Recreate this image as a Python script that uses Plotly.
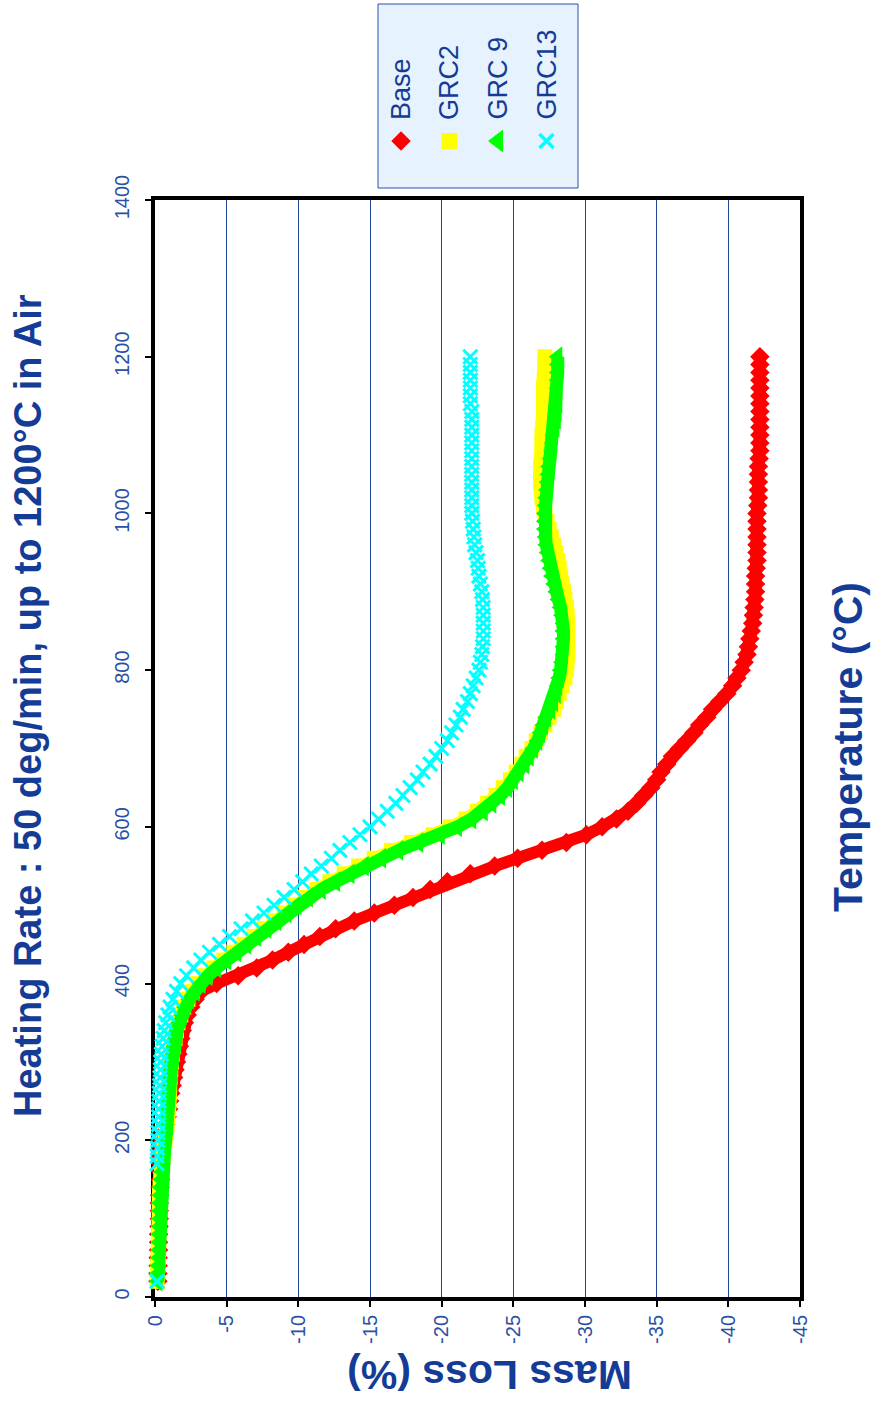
import plotly.graph_objects as go

# ---- data: temperature (°C) vs mass loss (%) ----
temps = [20, 30, 40, 50, 60, 70, 80, 90, 100, 110, 120, 130, 140, 150, 160, 170, 180, 190,
         200, 210, 220, 230, 240, 250, 260, 270, 280, 290, 300, 310, 320, 330, 340,
         350, 360, 370, 380, 390, 400, 410, 420, 430, 440, 450, 460, 470, 480, 490, 500,
         510, 520, 530, 540, 550, 560, 570, 580, 590, 600, 610, 620, 630, 640, 650, 660,
         670, 680, 690, 700, 710, 720, 730, 740, 750, 760, 770, 780, 790, 800,
         810, 820, 830, 840, 850, 860, 870, 880, 890, 900, 910, 920, 930, 940, 950, 960,
         970, 980, 990, 1000, 1010, 1020, 1030, 1040, 1050, 1060, 1070, 1080, 1090, 1100,
         1110, 1120, 1130, 1140, 1150, 1160, 1170, 1180, 1190, 1200]

temps_grc13 = [20, 170, 180, 190,
               200, 210, 220, 230, 240, 250, 260, 270, 280, 290, 300, 310, 320, 330, 340,
               350, 360, 370, 380, 390, 400, 410, 420, 430, 440, 450, 460, 470, 480, 490, 500,
               510, 520, 530, 540, 550, 560, 570, 580, 590, 600, 610, 620, 630, 640, 650, 660,
               670, 680, 690, 700, 710, 720, 730, 740, 750, 760, 770, 780, 790, 800,
               810, 820, 830, 840, 850, 860, 870, 880, 890, 900, 910, 920, 930, 940, 950, 960,
               970, 980, 990, 1000, 1010, 1020, 1030, 1040, 1050, 1060, 1070, 1080, 1090, 1100,
               1110, 1120, 1130, 1140, 1150, 1160, 1170, 1180, 1190, 1200]

base = [-0.2, -0.2, -0.22, -0.22, -0.25, -0.25, -0.25, -0.28, -0.3, -0.3, -0.3, -0.32, -0.35,
        -0.38, -0.4, -0.42, -0.45, -0.5, -0.55, -0.65, -0.75, -0.85, -0.95, -1.02, -1.1,
        -1.2, -1.3, -1.4, -1.5, -1.6, -1.7, -1.8, -1.9,
        -2.05, -2.25, -2.5, -2.8, -3.2, -4.3, -5.8, -7.1, -8.2, -9.3, -10.4, -11.5, -12.6,
        -13.9, -15.3, -16.7, -18.0, -19.2, -20.4, -22.0, -23.7, -25.3, -27.0, -28.7, -30.1,
        -31.2, -32.2, -33.0, -33.6, -34.1, -34.6, -35.0, -35.3, -35.7, -36.1, -36.6, -37.1,
        -37.6, -38.0, -38.5, -38.9, -39.4, -39.9, -40.3, -40.6, -40.9,
        -41.1, -41.3, -41.4, -41.5, -41.6, -41.7, -41.75, -41.8, -41.85, -41.9,
        -41.9, -41.9, -41.95, -42.0, -42.0, -42.0, -42.0, -42.0, -42.0, -42.0,
        -42.05, -42.1, -42.1, -42.1, -42.1, -42.1, -42.15, -42.2, -42.2, -42.2,
        -42.2, -42.2, -42.2, -42.2, -42.2, -42.2, -42.2, -42.2, -42.2, -42.2]

grc2 = [-0.15, -0.18, -0.2, -0.22, -0.25, -0.25, -0.25, -0.28, -0.3, -0.3, -0.3, -0.32, -0.35,
        -0.4, -0.45, -0.5, -0.55, -0.62, -0.7, -0.78, -0.85, -0.9, -0.95, -0.98, -1.0,
        -1.02, -1.05, -1.1, -1.15, -1.22, -1.3, -1.4, -1.5,
        -1.6, -1.8, -2.0, -2.3, -2.6, -3.0, -3.5, -4.1, -4.8, -5.5, -6.2, -6.9, -7.6, -8.3,
        -9.0, -9.7, -10.5, -11.3, -12.2, -13.2, -14.2, -15.3, -16.5, -17.9, -19.4, -20.6,
        -21.7, -22.5, -23.2, -23.8, -24.3, -24.8, -25.2, -25.6, -25.9, -26.3, -26.6, -26.9,
        -27.2, -27.5, -27.8, -28.0, -28.2, -28.4, -28.6, -28.7,
        -28.75, -28.8, -28.8, -28.8, -28.8, -28.8, -28.75, -28.7, -28.6, -28.5,
        -28.4, -28.3, -28.2, -28.1, -27.95, -27.8, -27.65, -27.5, -27.35, -27.2,
        -27.1, -27.0, -26.95, -26.9, -26.9, -26.9, -26.95, -27.0, -27.0, -27.0,
        -27.05, -27.1, -27.1, -27.1, -27.1, -27.1, -27.15, -27.2, -27.2, -27.2]

grc9 = [-0.2, -0.22, -0.25, -0.28, -0.3, -0.3, -0.3, -0.32, -0.35, -0.35, -0.35, -0.38, -0.4,
        -0.45, -0.5, -0.55, -0.6, -0.68, -0.75, -0.82, -0.9, -0.95, -1.0, -1.02, -1.05,
        -1.08, -1.1, -1.15, -1.2, -1.28, -1.35, -1.45, -1.55,
        -1.7, -1.9, -2.1, -2.4, -2.8, -3.2, -3.7, -4.3, -5.0, -5.7, -6.4, -7.1, -7.8, -8.5,
        -9.2, -9.9, -10.7, -11.6, -12.6, -13.6, -14.6, -15.8, -17.0, -18.4, -19.9, -21.1,
        -22.1, -22.9, -23.5, -24.1, -24.6, -25.0, -25.4, -25.8, -26.1, -26.4, -26.7, -26.9,
        -27.1, -27.3, -27.6, -27.8, -28.0, -28.1, -28.2, -28.3,
        -28.4, -28.5, -28.5, -28.5, -28.5, -28.5, -28.4, -28.3, -28.15, -28.0,
        -27.85, -27.7, -27.6, -27.5, -27.4, -27.3, -27.25, -27.2, -27.2, -27.2,
        -27.25, -27.3, -27.35, -27.4, -27.45, -27.5, -27.6, -27.7, -27.75, -27.8,
        -27.9, -28.0, -28.05, -28.1, -28.1, -28.1, -28.1, -28.1, -28.1, -28.1]

grc13 = [-0.15, -0.15, -0.15, -0.18,
         -0.2, -0.22, -0.25, -0.25, -0.25, -0.28, -0.3, -0.32, -0.35, -0.38, -0.4, -0.45,
         -0.5, -0.57, -0.65,
         -0.75, -0.9, -1.05, -1.25, -1.5, -1.8, -2.2, -2.7, -3.2, -3.8, -4.5, -5.2, -6.0,
         -6.8, -7.6, -8.3, -9.0, -9.7, -10.3, -10.9, -11.6, -12.3, -12.9, -13.6, -14.3,
         -15.0, -15.6, -16.2, -16.8, -17.3, -17.8, -18.3, -18.7, -19.2, -19.6, -20.0, -20.4,
         -20.7, -21.0, -21.3, -21.5, -21.8, -22.0, -22.2, -22.4, -22.6,
         -22.7, -22.8, -22.85, -22.9, -22.9, -22.9, -22.9, -22.9, -22.85, -22.8,
         -22.7, -22.6, -22.55, -22.5, -22.4, -22.3, -22.25, -22.2, -22.15, -22.1,
         -22.1, -22.1, -22.1, -22.1, -22.1, -22.1, -22.1, -22.1, -22.1, -22.1,
         -22.1, -22.1, -22.1, -22.0, -22.0, -22.0, -22.0, -22.0, -22.0, -22.0]

series_names = ["Base", "GRC2", "GRC 9", "GRC13"]
series_temps = [temps, temps, temps, temps_grc13]
series_values = [base, grc2, grc9, grc13]

mass_ticks = [0, -5, -10, -15, -20, -25, -30, -35, -40, -45]
temp_ticks = [0, 200, 400, 600, 800, 1000, 1200, 1400]

# ---- styling ----
colors = ["#FF0000", "#FFFF00", "#00FF00", "#00FFFF"]
symbols = ["diamond", "square", "triangle-left", "x-thin"]
marker_sizes = [15, 15, 18, 14]
legend_sizes = [15, 16, 20, 14]
line_widths = [12, 12, 13, 0]

NAVY = "#143C96"
TICK = "#2A50A6"
FONT = "Liberation Sans, Arial, sans-serif"

W, H = 872, 1402
PL, PR, PT, PB = 155, 800, 200, 1297        # plot frame, px
LG_L, LG_R, LG_T, LG_B = 378, 578, 4, 188   # key box, px


def fx(px):
    return px / W


def fy(py):
    return 1 - py / H


fig = go.Figure()

for name, t, v, c, s, ms, lw in zip(series_names, series_temps, series_values,
                                     colors, symbols, marker_sizes, line_widths):
    if s == "x-thin":
        marker = dict(symbol=s, size=ms, color=c, line=dict(color=c, width=3))
        mode = "markers"
    else:
        marker = dict(symbol=s, size=ms, color=c, line=dict(width=0))
        mode = "lines+markers"
    fig.add_trace(go.Scatter(
        x=v, y=t, name=name, mode=mode, marker=marker,
        line=dict(color=c, width=lw if lw else 1),
        cliponaxis=False, showlegend=False,
        xaxis="x", yaxis="y",
    ))

# key symbols on their own small axes
key_step = 48.5
key_first = 401
k_r0 = -(key_first - LG_L) / key_step
k_r1 = k_r0 + (LG_R - LG_L) / key_step
key_sym_y = (LG_B - 141) / (LG_B - LG_T)
for i, (name, c, s, ms) in enumerate(zip(series_names, colors, symbols, legend_sizes)):
    if s == "x-thin":
        marker = dict(symbol=s, size=ms, color=c, line=dict(color=c, width=3.5))
    else:
        marker = dict(symbol=s, size=ms, color=c, line=dict(width=0))
    fig.add_trace(go.Scatter(
        x=[i], y=[key_sym_y], mode="markers", marker=marker,
        xaxis="x2", yaxis="y2", showlegend=False, hoverinfo="skip",
    ))

annotations = []
for i, name in enumerate(series_names):
    annotations.append(dict(
        text=name, xref="x2", yref="paper", x=i, y=fy(122),
        xanchor="center", yanchor="bottom", textangle=-90, showarrow=False,
        font=dict(family=FONT, size=27, color=NAVY),
    ))

annotations += [
    dict(text="<b>Heating Rate : 50 deg/min, up to 1200°C in Air</b>",
         xref="paper", yref="paper", x=fx(28), y=fy(706), textangle=-90,
         showarrow=False, xanchor="center", yanchor="middle",
         font=dict(family=FONT, size=38, color=NAVY)),
    dict(text="<b>Temperature (°C)</b>",
         xref="paper", yref="paper", x=fx(848), y=fy(747), textangle=-90,
         showarrow=False, xanchor="center", yanchor="middle",
         font=dict(family=FONT, size=41, color=NAVY)),
    dict(text="<b>Mass Loss (%)</b>",
         xref="paper", yref="paper", x=fx(490), y=fy(1375), textangle=180,
         showarrow=False, xanchor="center", yanchor="middle",
         font=dict(family=FONT, size=41, color=NAVY)),
]

fig.update_layout(
    width=W, height=H,
    margin=dict(l=0, r=0, t=0, b=0, autoexpand=False),
    paper_bgcolor="white", plot_bgcolor="rgba(0,0,0,0)",
    showlegend=False,
    xaxis=dict(
        domain=[fx(PL), fx(PR)], anchor="y", range=[0, -45],
        tickmode="array", tickvals=mass_ticks, ticktext=[str(v) for v in mass_ticks],
        tickangle=-90, ticks="outside", ticklen=6, tickwidth=2, tickcolor="black",
        tickfont=dict(family=FONT, size=20, color=TICK), automargin=False,
        showgrid=True, gridcolor="#1F4597", gridwidth=1, zeroline=False,
        showline=True, linecolor="black", linewidth=4, mirror=True,
        layer="below traces",
    ),
    yaxis=dict(
        domain=[fy(PB), fy(PT)], anchor="x", range=[0, 1400],
        tickmode="array", tickvals=temp_ticks, ticktext=[str(v) for v in temp_ticks],
        tickangle=-90, ticks="outside", ticklen=6, tickwidth=2, tickcolor="black",
        tickfont=dict(family=FONT, size=20, color=TICK), automargin=False,
        ticklabelstandoff=8,
        showgrid=False, zeroline=False,
        showline=True, linecolor="black", linewidth=4, mirror=True,
        layer="below traces",
    ),
    xaxis2=dict(domain=[fx(LG_L), fx(LG_R)], anchor="y2", range=[k_r0, k_r1],
                visible=False, fixedrange=True, automargin=False),
    yaxis2=dict(domain=[fy(LG_B), fy(LG_T)], anchor="x2", range=[0, 1],
                visible=False, fixedrange=True, automargin=False),
    shapes=[dict(type="rect", xref="x2 domain", yref="y2 domain",
                 x0=0, x1=1, y0=0, y1=1, fillcolor="#E6F3FF",
                 line=dict(color="#2F4FA8", width=1), layer="below")],
    annotations=annotations,
)

fig.write_html("out.html")
